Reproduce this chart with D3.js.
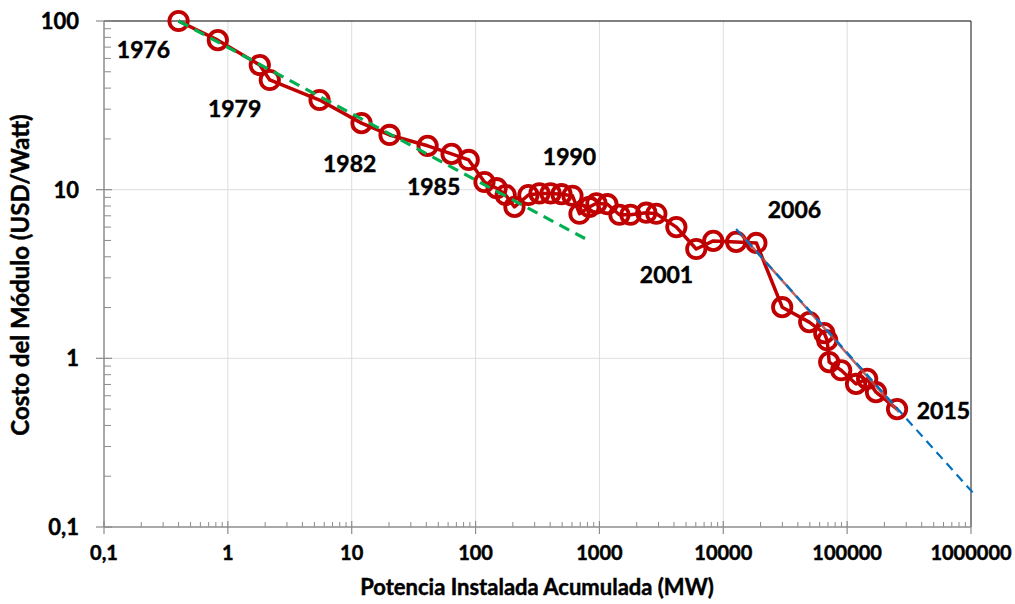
<!DOCTYPE html>
<html>
<head>
<meta charset="utf-8">
<script src="https://cdn.jsdelivr.net/npm/d3@7"></script>
<style>
  body { margin: 0; background: #fff; }
  svg { display: block; font-family: Lato, "Open Sans", sans-serif; }
  .bold { font-weight: bold; fill: #000; stroke: #000; stroke-width: 0.45px; }
</style>
</head>
<body>
<svg id="chart" width="1015" height="604"></svg>
<script>
// Cumulative installed capacity (MW)
const capacity = [0.4, 0.83, 1.81, 2.18, 5.5, 12, 20.2, 41, 64, 88,
  118, 148, 175, 206, 267, 328, 403, 494, 606, 690, 830, 946, 1160,
  1450, 1780, 2390, 2880, 4180, 6050, 8300, 12700, 18500, 29900, 49400,
  65300, 69000, 71600, 89500, 118000, 145000, 171000, 253000];
// Module cost (USD/Watt)
const cost = [100, 77, 54.8, 44.7, 34, 24.8, 21.1, 18.2, 16.3, 15.0,
  11.1, 10.2, 9.3, 7.9, 9.3, 9.5, 9.5, 9.4, 9.2, 7.2, 7.9, 8.3, 8.2,
  7.1, 7.1, 7.3, 7.2, 6.0, 4.45, 4.97, 4.9, 4.83, 2.01, 1.64,
  1.41, 1.28, 0.95, 0.85, 0.705, 0.755, 0.63, 0.50];

// Year annotations
const yearLabels = ["1976", "1979", "1982", "1985", "1990", "2001", "2006", "2015"];
const yearLabelX = [0.127, 0.69, 5.86, 27.9, 349, 2120, 22860, 364800];
const yearLabelY = [60.4, 27.0, 12.7, 9.29, 14.0, 2.80, 6.79, 0.436];

// Trend lines
const greenTrendX = [0.4, 830];
const greenTrendY = [100, 4.97];
const blueTrendX = [12700, 1050000];
const blueTrendY = [5.85, 0.158];
const brownTrendX = [13400, 262000];
const brownTrendY = [5.6, 0.48];

// Axis ticks
const xTicks = [0.1, 1, 10, 100, 1000, 10000, 100000, 1000000];
const xTickLabels = ["0,1", "1", "10", "100", "1000", "10000", "100000", "1000000"];
const yTicks = [0.1, 1, 10, 100];
const yTickLabels = ["0,1", "1", "10", "100"];

const svg = d3.select("#chart");
const pLeft = 104, pRight = 971, pTop = 21, pBottom = 527;

const x = d3.scaleLog().domain([0.1, 1000000]).range([pLeft, pRight]);
const y = d3.scaleLog().domain([0.1, 100]).range([pBottom, pTop]);

// minor ticks
const minorX = [], minorY = [];
for (let e = -1; e < 6; e++) for (let k = 2; k <= 9; k++) minorX.push(k * Math.pow(10, e));
for (let e = -1; e < 2; e++) for (let k = 2; k <= 9; k++) minorY.push(k * Math.pow(10, e));

// gridlines
const grid = svg.append("g");
grid.selectAll("line.gx").data(xTicks.slice(1, -1)).join("line")
  .attr("x1", d => x(d)).attr("x2", d => x(d))
  .attr("y1", pTop).attr("y2", pBottom)
  .attr("stroke", "#dedede").attr("stroke-width", 1);
grid.selectAll("line.gy").data(yTicks.slice(1, -1)).join("line")
  .attr("x1", pLeft).attr("x2", pRight)
  .attr("y1", d => y(d)).attr("y2", d => y(d))
  .attr("stroke", "#dedede").attr("stroke-width", 1);

// top and right border
svg.append("line").attr("x1", pLeft).attr("x2", pRight).attr("y1", pTop).attr("y2", pTop)
  .attr("stroke", "#000").attr("stroke-width", 1.2);
svg.append("line").attr("x1", pRight).attr("x2", pRight).attr("y1", pTop).attr("y2", pBottom)
  .attr("stroke", "#3a3a3a").attr("stroke-width", 1.2);

// Axes
const axisColor = "#8c8c8c";
const yAxisG = svg.append("g");
yAxisG.append("line").attr("x1", pLeft).attr("x2", pLeft).attr("y1", pTop).attr("y2", pBottom)
  .attr("stroke", axisColor).attr("stroke-width", 1.5);
yAxisG.selectAll("line.ymin").data(minorY).join("line")
  .attr("x1", pLeft).attr("x2", pLeft + 7)
  .attr("y1", d => y(d)).attr("y2", d => y(d))
  .attr("stroke", axisColor).attr("stroke-width", 1);
yAxisG.selectAll("line.ymaj").data(yTicks).join("line")
  .attr("x1", pLeft - 8).attr("x2", pLeft + 8)
  .attr("y1", d => y(d)).attr("y2", d => y(d))
  .attr("stroke", axisColor).attr("stroke-width", 1.2);
yAxisG.selectAll("text").data(yTicks).join("text")
  .attr("class", "bold")
  .attr("x", 79).attr("y", d => y(d)).attr("dy", "0.36em")
  .attr("text-anchor", "end").attr("font-size", 22)
  .text((d, i) => yTickLabels[i]);

const xAxisG = svg.append("g");
xAxisG.append("line").attr("x1", pLeft).attr("x2", pRight).attr("y1", pBottom).attr("y2", pBottom)
  .attr("stroke", axisColor).attr("stroke-width", 1.5);
xAxisG.selectAll("line.xmin").data(minorX).join("line")
  .attr("x1", d => x(d)).attr("x2", d => x(d))
  .attr("y1", pBottom).attr("y2", pBottom - 5)
  .attr("stroke", axisColor).attr("stroke-width", 1);
xAxisG.selectAll("line.xmaj").data(xTicks).join("line")
  .attr("x1", d => x(d)).attr("x2", d => x(d))
  .attr("y1", pBottom - 6).attr("y2", pBottom + 7)
  .attr("stroke", axisColor).attr("stroke-width", 1.2);
xAxisG.selectAll("text").data(xTicks).join("text")
  .attr("class", "bold")
  .attr("x", d => x(d)).attr("y", 560)
  .attr("text-anchor", "middle").attr("font-size", 20)
  .text((d, i) => xTickLabels[i]);

// Axis titles
svg.append("text").attr("class", "bold").attr("x", 537).attr("y", 595)
  .attr("text-anchor", "middle").attr("font-size", 22)
  .text("Potencia Instalada Acumulada (MW)");
svg.append("text").attr("class", "bold").attr("transform", "translate(29,275) rotate(-90)")
  .attr("text-anchor", "middle").attr("font-size", 24)
  .text("Costo del Módulo (USD/Watt)");

// Data series
const pts = capacity.map((c, i) => [c, cost[i]]);
const line = d3.line().x(d => x(d[0])).y(d => y(d[1]));
svg.append("path").datum(pts).attr("d", line)
  .attr("fill", "none").attr("stroke", "#c00000").attr("stroke-width", 3.5)
  .attr("stroke-linejoin", "round");
svg.append("g").selectAll("circle").data(pts).join("circle")
  .attr("cx", d => x(d[0])).attr("cy", d => y(d[1])).attr("r", 9.2)
  .attr("fill", "none").attr("stroke", "#c00000").attr("stroke-width", 3.8);

// Trend lines
const zip = (a, b) => a.map((v, i) => [v, b[i]]);
svg.append("path").datum(zip(greenTrendX, greenTrendY)).attr("d", line)
  .attr("fill", "none").attr("stroke", "#00b050").attr("stroke-width", 3.2)
  .attr("stroke-dasharray", "11,7");
svg.append("path").datum(zip(brownTrendX, brownTrendY)).attr("d", line)
  .attr("fill", "none").attr("stroke", "#b34a4a").attr("stroke-opacity", 0.85).attr("stroke-width", 2.5);
svg.append("path").datum(zip(blueTrendX, blueTrendY)).attr("d", line)
  .attr("fill", "none").attr("stroke", "#0070c0").attr("stroke-width", 2.2)
  .attr("stroke-dasharray", "9,6");

// Year labels
svg.append("g").selectAll("text").data(yearLabels).join("text")
  .attr("class", "bold")
  .attr("x", (d, i) => x(yearLabelX[i])).attr("y", (d, i) => y(yearLabelY[i]))
  .attr("font-size", 23)
  .text(d => d);
</script>
</body>
</html>
